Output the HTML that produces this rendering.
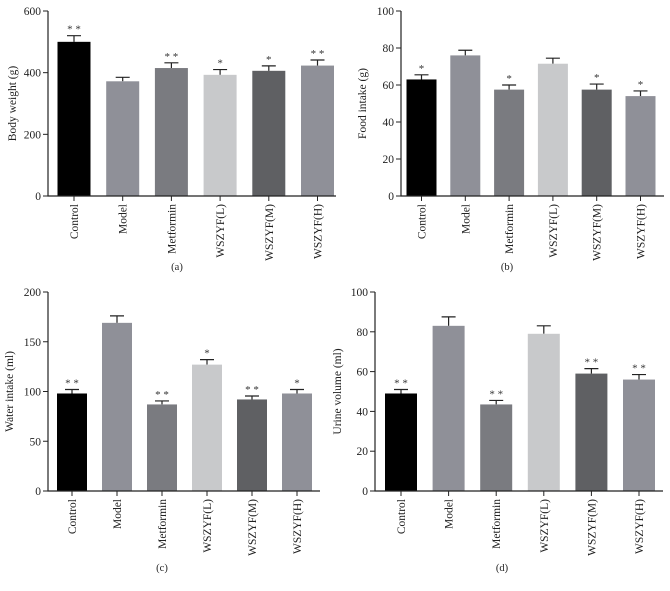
<!DOCTYPE html>
<html><head><meta charset="utf-8"><style>
body{margin:0;background:#fff;}
svg{display:block;font-family:"Liberation Serif",serif;}
</style></head><body>
<svg id="chart" width="670" height="591" viewBox="0 0 670 591" xmlns="http://www.w3.org/2000/svg"></svg>
<script>
const categories=["Control","Model","Metformin","WSZYF(L)","WSZYF(M)","WSZYF(H)"];
const colors=["#000000","#8f9098","#7a7b80","#c8c9cb","#5f6063","#8f9098"];
const bodyWeight=[500,372,415,393,406,423];
const bodyWeightErr=[20,13,17,17,16,18];
const bodyWeightSig=["**","","**","*","*","**"];
const foodIntake=[63,76,57.5,71.5,57.5,54];
const foodIntakeErr=[2.5,2.8,2.5,3,3,2.8];
const foodIntakeSig=["*","","*","","*","*"];
const waterIntake=[98,169,87,127,92,98];
const waterIntakeErr=[4,7,3.5,5,3.5,4];
const waterIntakeSig=["**","","**","*","**","*"];
const urineVolume=[49,83,43.5,79,59,56];
const urineVolumeErr=[2,4.5,2,4,2.5,2.5];
const urineVolumeSig=["**","","**","","**","**"];
const ticksA=[0,200,400,600],ticksB=[0,20,40,60,80,100],ticksC=[0,50,100,150,200],ticksD=[0,20,40,60,80,100];

const svg=document.getElementById('chart');
const NS="http://www.w3.org/2000/svg";
function mk(tag,attrs,parent){const e=document.createElementNS(NS,tag);for(const k in attrs)e.setAttribute(k,attrs[k]);parent.appendChild(e);return e;}

function panel(id,cfg,vals,errs,sigs,ticks){
  const g=mk('g',{},svg);
  
  
  const max=ticks[ticks.length-1];
  const y=v=>cfg.y0-(v/max)*(cfg.y0-cfg.yTop);
  const x=i=>cfg.x0+i*cfg.step;
  // bars
  vals.forEach((v,i)=>{
    const xc=x(i);
    const top=y(v+errs[i]);
    const eb=mk('path',{d:`M${xc},${y(v)}V${top}M${xc-7},${top}H${xc+7}`,stroke:'#222','stroke-width':1.2,fill:'none'},g);
    
    
    const r=mk('rect',{x:xc-cfg.bw/2,y:y(v),width:cfg.bw,height:cfg.y0-y(v),fill:colors[i]},g);
    
    
    if(sigs[i]){
      const t=mk('text',{x:xc,y:top-3,'text-anchor':'middle','font-size':11,fill:'#333'},g);
      t.textContent=sigs[i].split('').join(' ');
      
      
    }
    const tk=mk('line',{x1:xc,x2:xc,y1:cfg.y0,y2:cfg.y0+5,stroke:'#222','stroke-width':1},g);
    
    
    const lb=mk('text',{transform:`translate(${xc+4},${cfg.y0+8}) rotate(-90)`,'text-anchor':'end','font-size':11.5,fill:'#222'},g);
    lb.textContent=categories[i];
    
    
  });
  // axes
  const ax=mk('path',{d:`M${cfg.ax},${cfg.yTop}V${cfg.y0}H${cfg.xEnd}`,stroke:'#222','stroke-width':1.2,fill:'none'},g);
  
  
  ticks.forEach(t=>{
    const l=mk('line',{x1:cfg.ax-5,x2:cfg.ax,y1:y(t),y2:y(t),stroke:'#222','stroke-width':1},g);
    
    
    const tx=mk('text',{x:cfg.ax-7,y:y(t)+4,'text-anchor':'end','font-size':11.5,fill:'#222'},g);
    tx.textContent=t;
    
    
  });
  const yt=mk('text',{transform:`translate(${cfg.tx},${(cfg.y0+cfg.yTop)/2}) rotate(-90)`,'text-anchor':'middle','font-size':11.5,fill:'#222'},g);
  yt.textContent=cfg.title;
  
  
  const cp=mk('text',{x:cfg.capX,y:cfg.capY,'text-anchor':'middle','font-size':10.5,fill:'#222'},g);
  cp.textContent=cfg.cap;
  
  
}
panel('panel-a',{ax:48,x0:74,step:48.7,bw:33,y0:196,yTop:11,xEnd:336,tx:16,title:'Body weight (g)',cap:'(a)',capX:177,capY:270},bodyWeight,bodyWeightErr,bodyWeightSig,ticksA);
panel('panel-b',{ax:401,x0:421.5,step:43.8,bw:30,y0:196,yTop:11,xEnd:664,tx:366,title:'Food intake (g)',cap:'(b)',capX:507,capY:270},foodIntake,foodIntakeErr,foodIntakeSig,ticksB);
panel('panel-c',{ax:48,x0:72,step:45,bw:30,y0:491,yTop:292,xEnd:320,tx:13,title:'Water intake (ml)',cap:'(c)',capX:162,capY:571},waterIntake,waterIntakeErr,waterIntakeSig,ticksC);
panel('panel-d',{ax:375,x0:401,step:47.6,bw:32,y0:491,yTop:292,xEnd:663,tx:341,title:'Urine volume (ml)',cap:'(d)',capX:502,capY:571},urineVolume,urineVolumeErr,urineVolumeSig,ticksD);
</script>
</body></html>
